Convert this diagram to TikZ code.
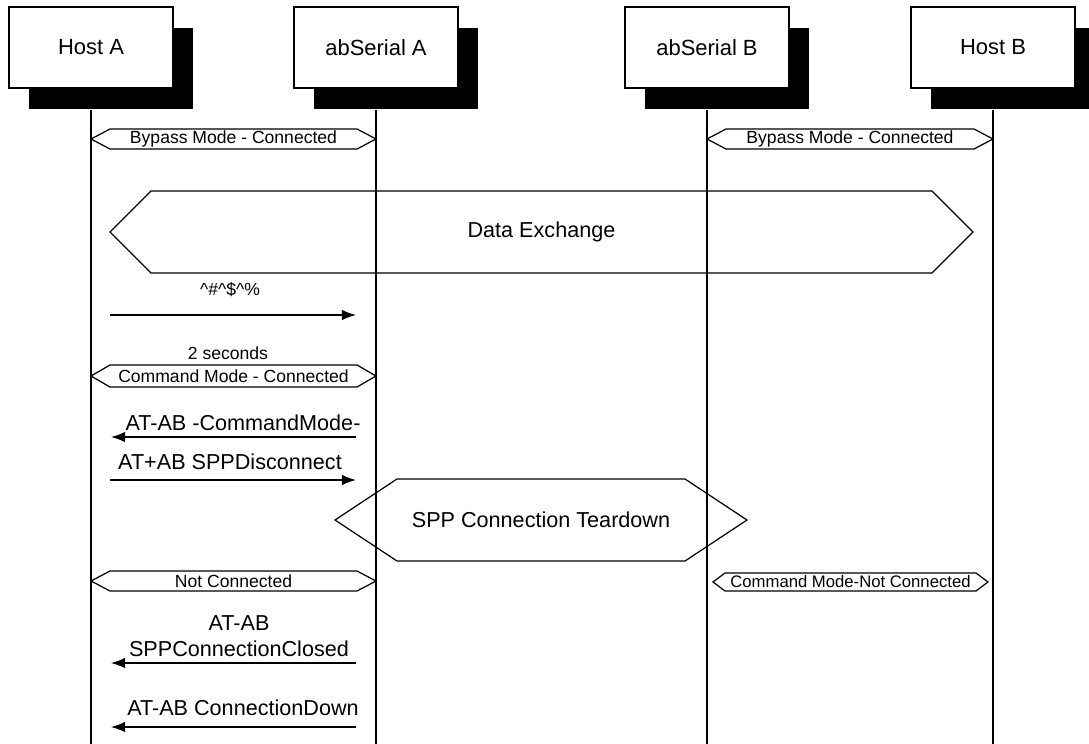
\documentclass[tikz,border=0pt]{standalone}
\usepackage{fontspec}
\setmainfont{Liberation Sans}
\usetikzlibrary{shadows, arrows.meta}
\tikzstyle{actor} = [rectangle, draw=black, line width=0.9pt, fill=white, minimum width=3.28cm, minimum height=1.62cm, text centered, font=\fontsize{12.5}{15}\selectfont, drop shadow={shadow xshift=0.4cm, shadow yshift=-0.42cm, fill=black, opacity=1}]
\tikzstyle{lifeline} = [line width=0.8pt]
\tikzstyle{hexline} = [line width=0.7pt]
\tikzstyle{mode} = [inner sep=0pt, font=\fontsize{10}{12}\selectfont]
\tikzstyle{smallmode} = [inner sep=0pt, font=\fontsize{9.5}{11}\selectfont]
\tikzstyle{phase} = [inner sep=0pt, font=\fontsize{12.3}{15}\selectfont]
\tikzstyle{msg} = [inner sep=0pt, align=center, font=\fontsize{12.3}{14.7}\selectfont]
\tikzstyle{arrow} = [line width=0.8pt, -{Latex[length=8pt,width=6pt]}]
% hexagon: style, name, left x, right x, centre y, half height, inset, text
\newcommand{\modehex}[8]{%
  \draw[hexline] (#3,#5) -- (#3+#7,#5-#6) -- (#4-#7,#5-#6) -- (#4,#5)
    -- (#4-#7,#5+#6) -- (#3+#7,#5+#6) -- cycle;
  \node (#2) [#1] at ({(#3+#4)/2},#5) {#8};}

\begin{document}
\begin{tikzpicture}[x=0.02cm, y=-0.02cm]
    \useasboundingbox (0,0) rectangle (1089,744);
    \coordinate (bottom) at (0,744);
    % participants
    \node (hostA) [actor] at (91,47.5) {Host A};
    \node (serA) [actor] at (376,47.5) {abSerial A};
    \node (serB) [actor] at (707,47.5) {abSerial B};
    \node (hostB) [actor] at (993,47.5) {Host B};
    \draw [lifeline] ([yshift=-0.42cm]hostA.south) -- (hostA |- bottom);
    \draw [lifeline] ([yshift=-0.42cm]serA.south) -- (serA |- bottom);
    \draw [lifeline] ([yshift=-0.42cm]serB.south) -- (serB |- bottom);
    \draw [lifeline] ([yshift=-0.42cm]hostB.south) -- (hostB |- bottom);
    % states
    \modehex{mode}{bypA}{91}{376}{139}{10}{19}{Bypass Mode - Connected}
    \modehex{mode}{bypB}{707}{993}{139}{10}{19}{Bypass Mode - Connected}
    \modehex{phase}{data}{110}{973}{232}{41}{41}{Data Exchange}
    \modehex{mode}{cmdA}{91}{376}{376}{11}{19}{Command Mode - Connected}
    \modehex{phase}{spp}{335}{747}{520}{41}{62}{SPP Connection Teardown}
    \modehex{mode}{notA}{91}{376}{581}{10}{19}{Not Connected}
    \modehex{smallmode}{notB}{713}{988}{582}{9}{12}{Command Mode-Not Connected}
    % messages
    \coordinate (m1s) at (110,315);
    \coordinate (m1e) at (356,315);
    \draw [arrow] (m1s) -- (m1e);
    \node (esc) [mode] at (230,290) {\textasciicircum\#\textasciicircum\$\textasciicircum\%};
    \node (wait) [mode] at (228,353) {2 seconds};
    \coordinate (m2s) at (356,437);
    \coordinate (m2e) at (111,437);
    \draw [arrow] (m2s) -- (m2e);
    \node (cmdmode) [msg] at (243,423) {AT-AB -CommandMode-};
    \coordinate (m3s) at (110,480);
    \coordinate (m3e) at (356,480);
    \draw [arrow] (m3s) -- (m3e);
    \node (disc) [msg] at (230,462) {AT+AB SPPDisconnect};
    \coordinate (m4s) at (356,663);
    \coordinate (m4e) at (111,663);
    \draw [arrow] (m4s) -- (m4e);
    \node (closed) [msg] at (239,636) {AT-AB\\SPPConnectionClosed};
    \coordinate (m5s) at (356,727);
    \coordinate (m5e) at (111,727);
    \draw [arrow] (m5s) -- (m5e);
    \node (down) [msg] at (243,708) {AT-AB ConnectionDown};
\end{tikzpicture}
\end{document}
